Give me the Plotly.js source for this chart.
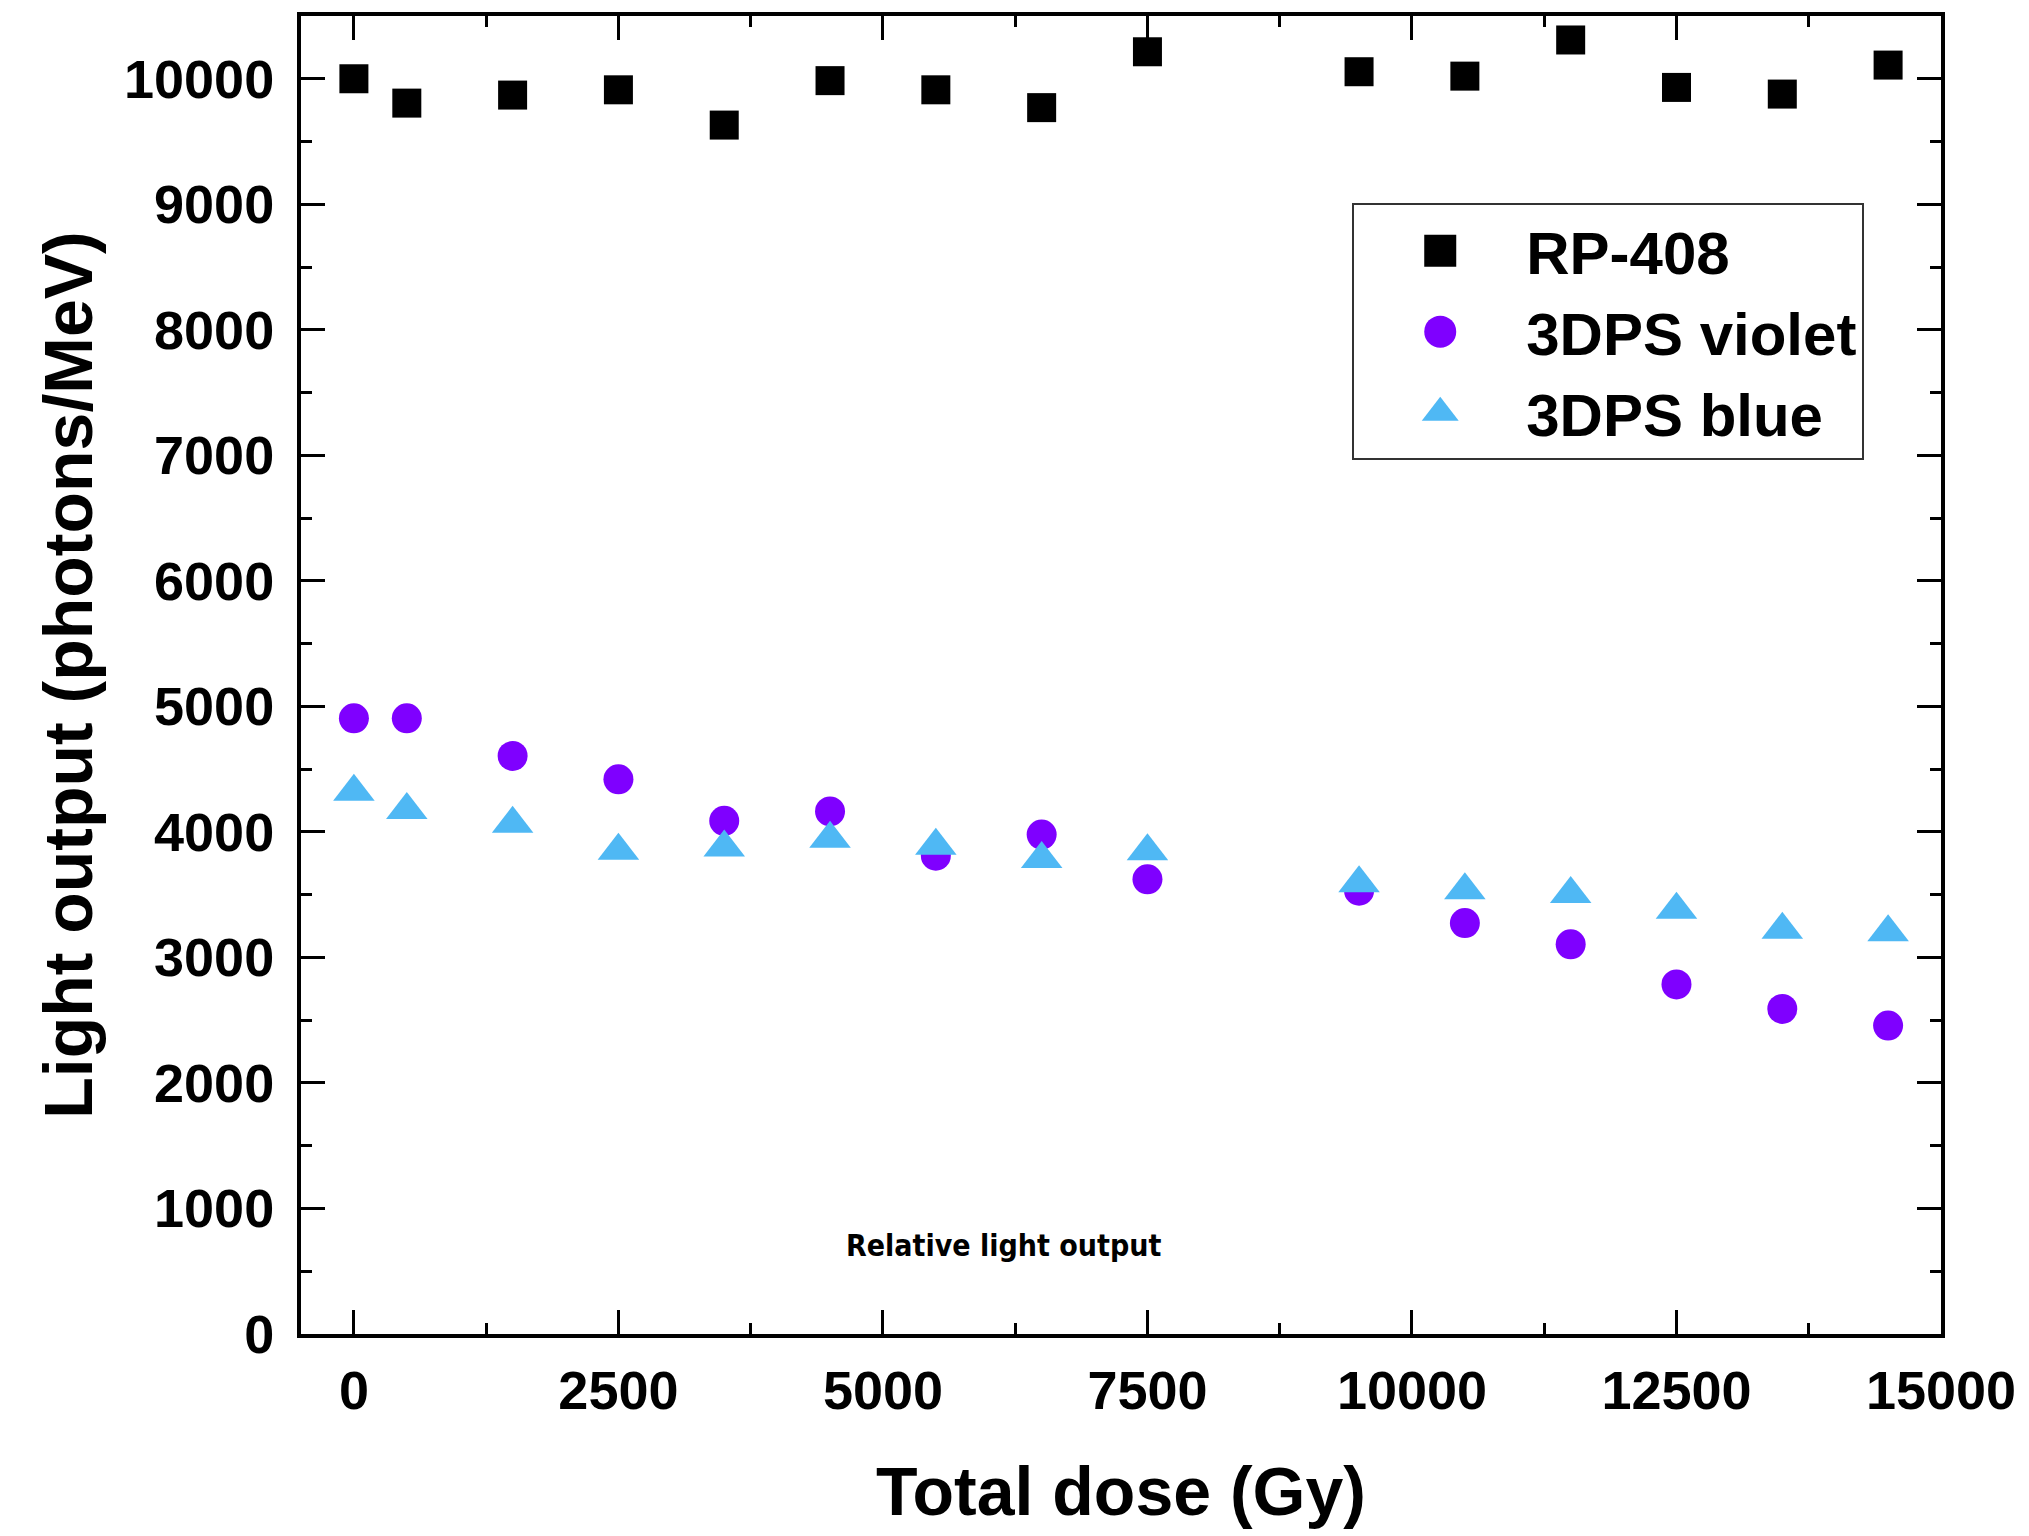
<!DOCTYPE html>
<html>
<head>
<meta charset="utf-8">
<script src="https://cdn.plot.ly/plotly-3.0.1.min.js"></script>
<style>
  html, body { margin: 0; padding: 0; background: #fff; }
  #chart { width: 2029px; height: 1536px; }
</style>
</head>
<body>
<div id="chart"></div>
<script>
// Data
const dose = [0, 500, 1500, 2500, 3500, 4500, 5500, 6500, 7500, 9500, 10500, 11500, 12500, 13500, 14500];
const rp408 = [10000, 9806, 9870, 9912, 9631, 9985, 9912, 9770, 10215, 10056, 10021, 10309, 9931, 9878, 10109];
const violet = [4905, 4905, 4605, 4419, 4088, 4163, 3811, 3979, 3622, 3532, 3274, 3104, 2785, 2590, 2457];
const blue = [4320, 4175, 4065, 3850, 3875, 3945, 3890, 3785, 3845, 3590, 3535, 3505, 3380, 3220, 3200];
const seriesNames = ['RP-408', '3DPS violet', '3DPS blue'];
const xTickVals = [0, 2500, 5000, 7500, 10000, 12500, 15000];
const yTickVals = [0, 1000, 2000, 3000, 4000, 5000, 6000, 7000, 8000, 9000, 10000];

const FONT = '"Liberation Sans", Arial, sans-serif';

const traces = [
  {x: dose, y: rp408, name: seriesNames[0], type: 'scatter', mode: 'markers',
   marker: {symbol: 'square', size: 29, color: '#000000'}},
  {x: dose, y: violet, name: seriesNames[1], type: 'scatter', mode: 'markers',
   marker: {symbol: 'circle', size: 30, color: '#7f00ff'}},
  {x: dose, y: blue, name: seriesNames[2], type: 'scatter', mode: 'markers',
   marker: {symbol: 'triangle-up', size: 36, color: '#4fb8f4'}}
];

const axisCommon = {
  showgrid: false, zeroline: false,
  showline: true, linecolor: '#000', linewidth: 4, mirror: 'ticks',
  ticks: 'inside', tickcolor: '#000', tickwidth: 3, ticklen: 24,
  tickfont: {family: FONT, size: 54, color: '#000', weight: 'bold'}
};

const layout = {
  width: 2029, height: 1536,
  paper_bgcolor: '#fff', plot_bgcolor: '#fff',
  margin: {l: 301, r: 88, t: 16, b: 202},
  showlegend: true,
  legend: {
    x: 0.641, y: 0.858, xanchor: 'left', yanchor: 'top',
    bgcolor: '#fff', bordercolor: '#333', borderwidth: 2,
    font: {family: FONT, size: 60, color: '#000', weight: 'bold'},
    itemwidth: 162, tracegroupgap: 0
  },
  xaxis: Object.assign({}, axisCommon, {
    range: [-500, 15000], tickvals: xTickVals,
    ticktext: xTickVals.map(String),
    minor: {ticks: 'inside', ticklen: 11, tickwidth: 3, tickcolor: '#000', dtick: 1250, tick0: 0},
    ticklabelstandoff: 6,
    title: {text: 'Total dose (Gy)', standoff: 50,
            font: {family: FONT, size: 68, color: '#000', weight: 'bold'}}
  }),
  yaxis: Object.assign({}, axisCommon, {
    range: [0, 10500], tickvals: yTickVals,
    ticktext: yTickVals.map(String),
    minor: {ticks: 'inside', ticklen: 11, tickwidth: 3, tickcolor: '#000', dtick: 500, tick0: 0},
    ticklabelstandoff: 12,
    title: {text: 'Light output (photons/MeV)', standoff: 10,
            font: {family: FONT, size: 68, color: '#000', weight: 'bold'}}
  }),
  annotations: [{
    xref: 'paper', yref: 'paper', x: 0.4287, y: 0.0675,
    xanchor: 'center', yanchor: 'middle', showarrow: false,
    text: 'Relative light output',
    font: {family: '"Liberation Sans Narrow", "DejaVu Sans Condensed", Arial, sans-serif', size: 30, color: '#000', weight: 'bold'}
  }]
};

Plotly.newPlot('chart', traces, layout, {displayModeBar: false, staticPlot: true}).then(function (gd) {
  gd.querySelectorAll('.legend .legendpoints path.scatterpts').forEach(function (p) {
    const t = p.getAttribute('transform') || '';
    p.setAttribute('transform', t + ' scale(2.0)');
  });
});
</script>
</body>
</html>
